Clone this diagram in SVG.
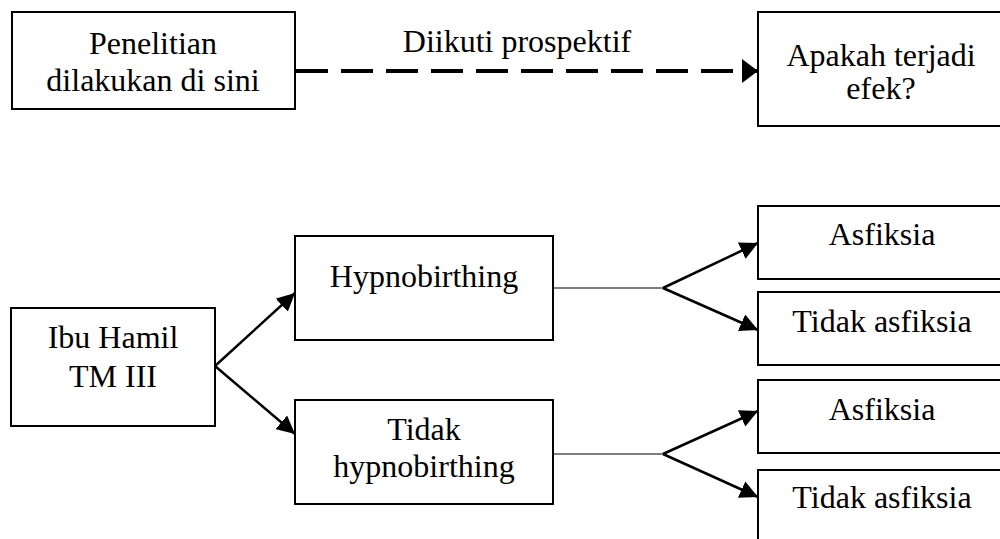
<svg xmlns="http://www.w3.org/2000/svg" width="1000" height="539" viewBox="0 0 1000 539">
<style>
.box{fill:#fff;stroke:#000;stroke-width:2}
.t{font-size:32px;fill:#000;text-anchor:middle}
.arr{fill:none;stroke:#000;stroke-width:2.5}
.thin{fill:none;stroke:#000;stroke-width:1.2}
.dash{fill:none;stroke:#000;stroke-width:4;stroke-dasharray:32 13}
</style>
<defs>
<marker id="ah" markerUnits="userSpaceOnUse" markerWidth="18" markerHeight="18" refX="18" refY="9" orient="auto">
<path d="M0,0 L18,9 L0,18 z" fill="#000"/>
</marker>
<marker id="ahd" markerUnits="userSpaceOnUse" markerWidth="16" markerHeight="24" refX="16" refY="12" orient="auto">
<path d="M0,0 L16,12 L0,24 z" fill="#000"/>
</marker>
</defs>
<rect width="1000" height="539" fill="#fff"/>
<g id="connectors">
<line class="dash" x1="296" y1="71" x2="758" y2="71" marker-end="url(#ahd)"/>
<line class="arr" x1="215" y1="366" x2="295" y2="293" marker-end="url(#ah)"/>
<line class="arr" x1="215" y1="366" x2="295" y2="434" marker-end="url(#ah)"/>
<line class="thin" x1="553" y1="288" x2="663" y2="288"/>
<line class="arr" x1="663" y1="288" x2="758" y2="243" marker-end="url(#ah)"/>
<line class="arr" x1="663" y1="288" x2="758" y2="330" marker-end="url(#ah)"/>
<line class="thin" x1="553" y1="454" x2="663" y2="454"/>
<line class="arr" x1="663" y1="454" x2="758" y2="411" marker-end="url(#ah)"/>
<line class="arr" x1="663" y1="454" x2="758" y2="497" marker-end="url(#ah)"/>
</g>
<g font-family="'Liberation Serif', Tinos, 'DejaVu Serif', serif">
<g id="penelitian">
<rect class="box" x="12" y="12" width="283" height="97"/>
<text class="t" x="153" y="54">Penelitian</text>
<text class="t" x="153" y="91">dilakukan di sini</text>
</g>
<g id="label-diikuti">
<text class="t" x="517" y="52">Diikuti prospektif</text>
</g>
<g id="apakah">
<rect class="box" x="758" y="12" width="250" height="114"/>
<text class="t" x="881" y="66">Apakah terjadi</text>
<text class="t" x="881" y="99">efek?</text>
</g>
<g id="ibu-hamil">
<rect class="box" x="11" y="308" width="204" height="118"/>
<text class="t" x="113" y="348">Ibu Hamil</text>
<text class="t" x="113" y="387">TM III</text>
</g>
<g id="hypnobirthing">
<rect class="box" x="295" y="236" width="258" height="104"/>
<text class="t" x="424" y="287">Hypnobirthing</text>
</g>
<g id="tidak-hypnobirthing">
<rect class="box" x="295" y="400" width="258" height="104"/>
<text class="t" x="424" y="440">Tidak</text>
<text class="t" x="424" y="477">hypnobirthing</text>
</g>
<g id="asfiksia-1">
<rect class="box" x="758" y="206" width="250" height="73"/>
<text class="t" x="882" y="245">Asfiksia</text>
</g>
<g id="tidak-asfiksia-1">
<rect class="box" x="758" y="292" width="250" height="73"/>
<text class="t" x="882" y="332">Tidak asfiksia</text>
</g>
<g id="asfiksia-2">
<rect class="box" x="758" y="380" width="250" height="73"/>
<text class="t" x="882" y="420">Asfiksia</text>
</g>
<g id="tidak-asfiksia-2">
<rect class="box" x="758" y="470" width="250" height="80"/>
<text class="t" x="882" y="508">Tidak asfiksia</text>
</g>
</g>
</svg>
